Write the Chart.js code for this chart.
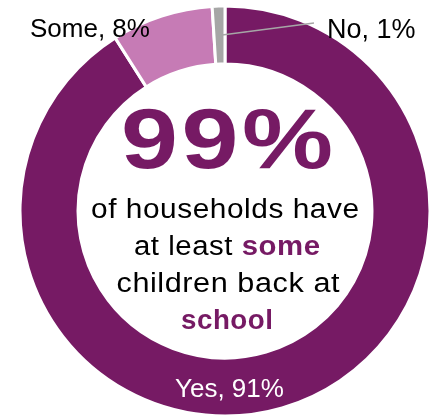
<!DOCTYPE html>
<html>
<head>
<meta charset="utf-8">
<script src="https://cdn.jsdelivr.net/npm/chart.js@4.4.1/dist/chart.umd.min.js"></script>
<style>
  html, body { margin: 0; padding: 0; background: #fff; }
  #wrap { width: 437px; height: 419px; }
</style>
</head>
<body>
<div id="wrap"><canvas id="schoolChart" width="437" height="419"></canvas></div>
<script>
// share of households with children back at school
const categories = ["Yes", "Some", "No"];
const shares = [91, 8, 1];
const sliceColors = ["#761a64", "#c67bb5", "#a6a6a6"];

const PURPLE = "#761a64";
const FONT = "'Liberation Sans', Arial, sans-serif";

// draws a line made of several styled runs, centred on cx,
// stretched sideways so the whole line is targetWidth wide
function drawRuns(ctx, runs, cx, y, size, targetWidth, spacing) {
    spacing = spacing || 0;
    ctx.letterSpacing = spacing + "px";
    let natural = 0;
    runs.forEach(function (r) {
        ctx.font = (r.bold ? "bold " : "") + size + "px " + FONT;
        natural += ctx.measureText(r.text).width;
    });
    natural -= spacing;
    const sx = targetWidth / natural;

    ctx.save();
    ctx.translate(cx - targetWidth / 2, y);
    ctx.scale(sx, 1);
    ctx.textAlign = "left";
    ctx.textBaseline = "alphabetic";
    let x = 0;
    runs.forEach(function (r) {
        ctx.font = (r.bold ? "bold " : "") + size + "px " + FONT;
        ctx.fillStyle = r.color;
        ctx.fillText(r.text, x, 0);
        x += ctx.measureText(r.text).width;
    });
    ctx.restore();
    ctx.letterSpacing = "0px";
}

const labelPlugin = {
    id: "labelPlugin",
    afterDraw: function (chart) {
        const ctx = chart.ctx;
        const cx = (chart.chartArea.left + chart.chartArea.right) / 2;
        ctx.save();

        // big headline: everyone except "No"
        const atLeastSome = shares[0] + shares[1];
        drawRuns(ctx, [{ text: atLeastSome + "%", bold: true, color: PURPLE }], cx + 2, 168, 86, 212, 3);

        drawRuns(ctx, [{ text: "of households have", color: "#000" }], cx, 218, 27, 268, 0.5);
        drawRuns(ctx, [
            { text: "at least ", color: "#000" },
            { text: "some", bold: true, color: PURPLE }
        ], cx + 2, 255, 27, 186, 0.5);
        drawRuns(ctx, [{ text: "children back at", color: "#000" }], cx + 3, 292, 27, 223, 0.5);
        drawRuns(ctx, [{ text: "school", bold: true, color: PURPLE }], cx + 2, 329, 27, 92, 0.5);

        // slice labels
        ctx.font = "26px " + FONT;
        ctx.textAlign = "left";
        ctx.fillStyle = "#fff";
        ctx.fillText(categories[0] + ", " + shares[0] + "%", 175, 397);
        ctx.fillStyle = "#000";
        ctx.fillText(categories[1] + ", " + shares[1] + "%", 30, 37);
        ctx.font = "27px " + FONT;
        ctx.fillText(categories[2] + ", " + shares[2] + "%", 327, 38);

        // leader line for the thin "No" slice
        ctx.strokeStyle = sliceColors[2];
        ctx.lineWidth = 1.5;
        ctx.beginPath();
        ctx.moveTo(222, 35);
        ctx.lineTo(314, 23);
        ctx.stroke();

        ctx.restore();
    }
};

new Chart(document.getElementById("schoolChart"), {
    type: "doughnut",
    data: {
        labels: categories,
        datasets: [{
            data: shares,
            backgroundColor: sliceColors,
            borderColor: "#fff",
            borderWidth: 3
        }]
    },
    options: {
        responsive: false,
        animation: false,
        radius: 205,
        cutout: "71.7%",
        layout: { padding: { left: 20, right: 7, top: 6, bottom: 3 } },
        plugins: {
            legend: { display: false },
            tooltip: { enabled: false }
        }
    },
    plugins: [labelPlugin]
});
</script>
</body>
</html>
